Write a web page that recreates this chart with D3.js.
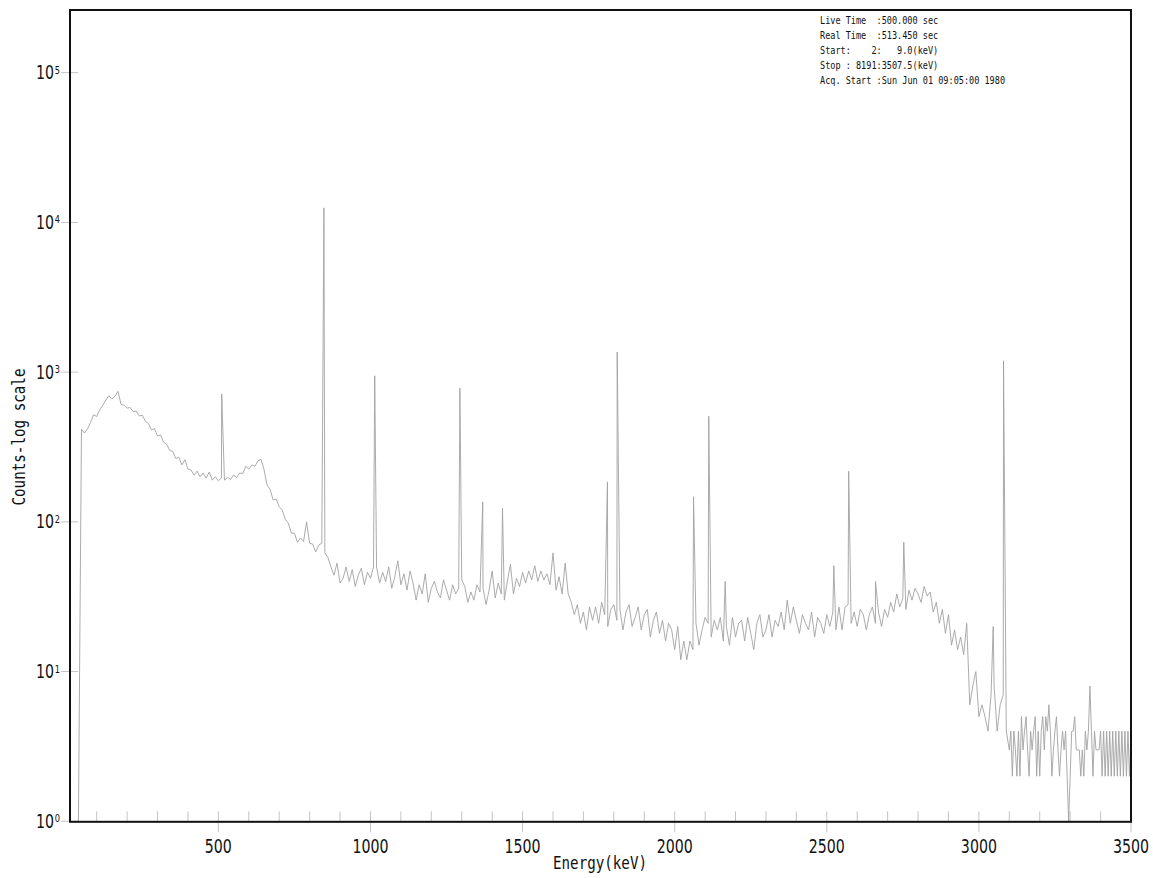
<!DOCTYPE html>
<html>
<head>
<meta charset="utf-8">
<script src="https://cdn.jsdelivr.net/npm/d3@7"></script>
<style>
  html, body { margin: 0; padding: 0; background: #fff; }
  svg { display: block; }
</style>
</head>
<body>
<svg id="chart" width="1153" height="878"></svg>
<script>
// Gamma spectrum, 10 keV bins from 40 keV to 3090 keV (counts per bin)
const binStart = 40;
const binStep = 10;
const continuumCounts = [
  0, 415, 392, 418, 462, 520, 505, 560, 600, 650,
  695, 660, 690, 745, 610, 600, 575, 580, 545, 550,
  510, 515, 470, 455, 410, 420, 375, 380, 340, 330,
  300, 295, 265, 270, 240, 260, 225, 222, 205, 218,
  200, 212, 196, 215, 190, 200, 188, 196, 190, 198,
  192, 205, 198, 212, 210, 235, 225, 240, 235, 255,
  262, 224, 176, 165, 140, 142, 126, 120, 104, 98,
  84, 84, 73, 78, 74, 100, 72, 71, 63, 70,
  72, 62, 58, 50, 44, 53, 39, 42, 50, 40,
  48, 37, 44, 49, 38, 46, 42, 50, 50, 39,
  46, 40, 50, 36, 43, 55, 38, 45, 35, 47,
  39, 30, 38, 33, 45, 29, 36, 40, 34, 31,
  41, 35, 30, 38, 33, 36, 41, 37, 29, 34,
  30, 38, 34, 36, 28, 35, 47, 31, 39, 33,
  30, 40, 52, 33, 42, 37, 46, 39, 47, 41,
  51, 40, 47, 41, 45, 38, 62, 35, 43, 33,
  53, 33, 29, 24, 28, 21, 25, 19, 27, 22,
  27, 21, 29, 24, 20, 26, 28, 22, 26, 19,
  25, 28, 20, 23, 27, 19, 24, 26, 17, 22,
  25, 18, 22, 16, 21, 19, 14, 20, 12, 16,
  12, 16, 14, 21, 15, 19, 23, 21, 17, 22,
  19, 23, 16, 20, 15, 23, 17, 21, 22, 16,
  23, 18, 14, 21, 24, 17, 19, 24, 17, 22,
  20, 25, 19, 30, 21, 27, 22, 18, 24, 21,
  19, 25, 17, 23, 21, 18, 24, 20, 25, 19,
  27, 19, 27, 28, 21, 25, 20, 26, 24, 19,
  24, 27, 21, 25, 20, 26, 23, 29, 25, 33,
  27, 31, 26, 35, 30, 36, 33, 29, 37, 32,
  34, 25, 29, 21, 26, 18, 24, 15, 19, 14,
  17, 13, 21, 6, 8, 10, 5, 6, 5, 4,
  7, 8, 4, 6, 7, 4
];

// High-energy tail, 5 keV bins from 3100 keV to 3500 keV
const tailStart = 3100;
const tailStep = 5;
const tailCounts = [
  3, 4, 2, 4, 3, 2, 4, 2, 5, 3,
  4, 5, 3, 2, 4, 3, 4, 5, 2, 4,
  2, 4, 5, 3, 5, 4, 6, 4, 2, 3,
  4, 5, 3, 2, 3, 4, 3, 4, 2, 0,
  2, 4, 4, 5, 3, 3, 3, 2, 3, 2,
  4, 3, 4, 8, 4, 2, 4, 3, 3, 3,
  4, 2, 4, 2, 4, 2, 4, 2, 4, 2,
  4, 2, 4, 2, 4, 2, 4, 2, 4, 2,
  4
];

// Full-energy peaks (keV, counts at peak channel)
const peakEnergies = [511, 847, 1014, 1294, 1369, 1434, 1779, 1811, 2062, 2112, 2166, 2523, 2572, 2660, 2753, 3047, 3081];
const peakCounts   = [715, 12500, 945, 781, 136, 123, 185, 1360, 147, 507, 40, 51, 218, 40, 73, 20, 1190];

// Axis ticks
const decadeTicks = [1, 10, 100, 1000, 10000, 100000];
const decadeExponents = ["0", "1", "2", "3", "4", "5"];
const energyLabels = [500, 1000, 1500, 2000, 2500, 3000, 3500];

// Acquisition header
const infoLines = [
  "Live Time  :500.000 sec",
  "Real Time  :513.450 sec",
  "Start:    2:   9.0(keV)",
  "Stop : 8191:3507.5(keV)",
  "Acq. Start :Sun Jun 01 09:05:00 1980"
];

const svg = d3.select("#chart");
const plot = { left: 70, right: 1131, top: 10, bottom: 821.3 };

const x = d3.scaleLinear().domain([9, 3500]).range([69, 1131]);
const y = d3.scaleLog().domain([1, 262144]).range([821.3, 10]).clamp(true);

// merge binned spectrum, tail and peaks into one ordered trace
const points = [];
continuumCounts.forEach((c, i) => points.push({ e: binStart + i * binStep, c }));
tailCounts.forEach((c, i) => points.push({ e: tailStart + i * tailStep, c }));
peakEnergies.forEach((e, i) => points.push({ e, c: peakCounts[i] }));
points.sort((a, b) => a.e - b.e);

const tickColor = "#c4c4c4";
const labelFont = "'DejaVu Sans Condensed', 'DejaVu Sans', sans-serif";
const monoFont = "'DejaVu Sans Mono', 'Liberation Mono', monospace";
const squeeze = 0.83;

// x-axis ticks: minor every 100 keV, major every 500 keV
const minorTicks = d3.range(100, 3500, 100).filter(v => v % 500 !== 0);
svg.append("g").selectAll("line").data(minorTicks).join("line")
  .attr("x1", d => x(d)).attr("x2", d => x(d))
  .attr("y1", plot.bottom - 10).attr("y2", plot.bottom)
  .attr("stroke", tickColor).attr("stroke-width", 1);
svg.append("g").selectAll("line").data(energyLabels).join("line")
  .attr("x1", d => x(d)).attr("x2", d => x(d))
  .attr("y1", plot.bottom - 10).attr("y2", plot.bottom + 11)
  .attr("stroke", tickColor).attr("stroke-width", 1);
svg.append("g").selectAll("text").data(energyLabels).join("text")
  .attr("transform", d => `translate(${x(d)},852.5) scale(${squeeze},1)`)
  .attr("text-anchor", "middle")
  .attr("font-family", labelFont).attr("font-size", 19)
  .attr("fill", "#111")
  .text(d => d);

// y-axis decade ticks
svg.append("g").selectAll("line").data(decadeTicks).join("line")
  .attr("x1", 61).attr("x2", 78)
  .attr("y1", d => y(d)).attr("y2", d => y(d))
  .attr("stroke", tickColor).attr("stroke-width", 1);
const yl = svg.append("g").selectAll("text").data(decadeTicks).join("text")
  .attr("transform", d => `translate(36,${y(d) + 6.5}) scale(${squeeze},1)`)
  .attr("font-family", labelFont).attr("font-size", 19)
  .attr("fill", "#111");
yl.append("tspan").text("10");
yl.append("tspan").attr("font-size", 11).attr("dx", 1).attr("dy", -5.5)
  .text((d, i) => decadeExponents[i]);

// spectrum trace
const line = d3.line().x(d => x(d.e)).y(d => y(d.c));
svg.append("path")
  .datum(points)
  .attr("d", line)
  .attr("fill", "none")
  .attr("stroke", "#a2a2a2")
  .attr("stroke-width", 0.9)
  .attr("stroke-linejoin", "miter");

// plot frame
svg.append("rect")
  .attr("x", plot.left).attr("y", plot.top)
  .attr("width", plot.right - plot.left).attr("height", plot.bottom - plot.top + 0.5)
  .attr("fill", "none").attr("stroke", "#111").attr("stroke-width", 2);

// axis titles
svg.append("text")
  .attr("x", 600).attr("y", 869)
  .attr("text-anchor", "middle")
  .attr("font-family", monoFont).attr("font-size", 17)
  .attr("textLength", 94).attr("lengthAdjust", "spacingAndGlyphs")
  .attr("fill", "#111")
  .text("Energy(keV)");
svg.append("text")
  .attr("transform", "translate(25,437) rotate(-90)")
  .attr("text-anchor", "middle")
  .attr("font-family", monoFont).attr("font-size", 17)
  .attr("textLength", 137).attr("lengthAdjust", "spacingAndGlyphs")
  .attr("fill", "#111")
  .text("Counts-log scale");

// acquisition header
svg.append("g").selectAll("text").data(infoLines).join("text")
  .attr("x", 820).attr("y", (d, i) => 23.5 + i * 15)
  .attr("font-family", monoFont).attr("font-size", 9.6)
  .attr("textLength", d => d.length * 5.14).attr("lengthAdjust", "spacingAndGlyphs")
  .attr("fill", "#111")
  .style("white-space", "pre")
  .text(d => d);
</script>
</body>
</html>
